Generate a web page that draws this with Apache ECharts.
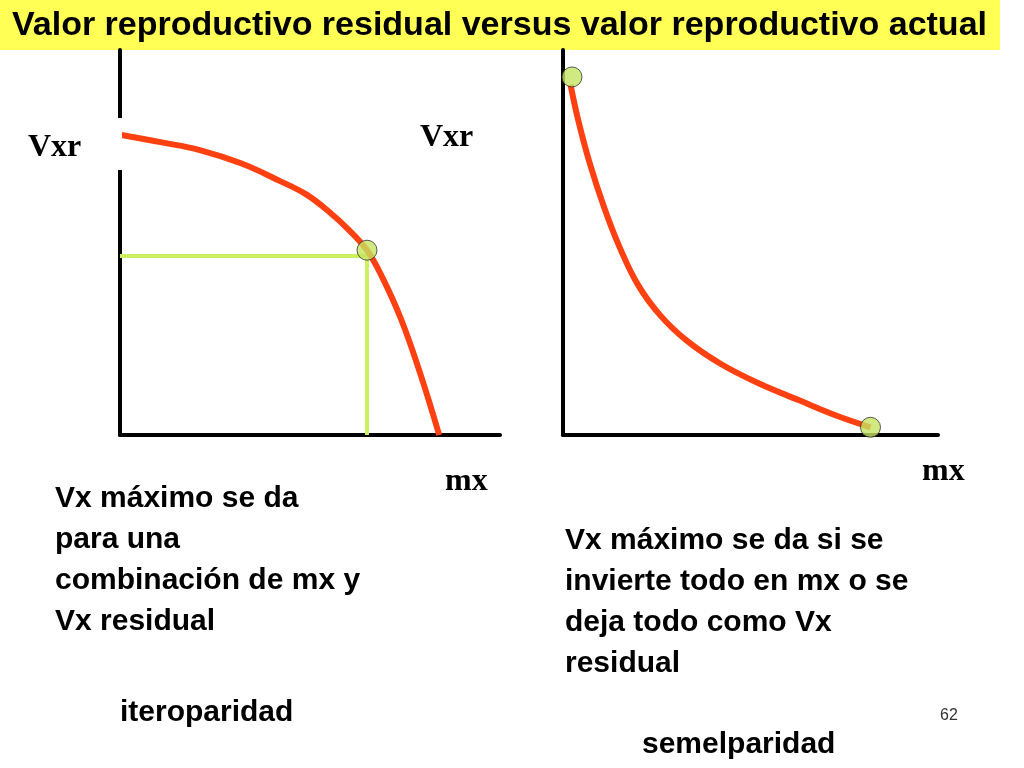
<!DOCTYPE html>
<html><head><meta charset="utf-8">
<script src="https://cdn.jsdelivr.net/npm/echarts@6/dist/echarts.min.js"></script>
<style>html,body{margin:0;padding:0;background:#fff}#c{width:1024px;height:768px}</style>
</head><body><div id="c"></div>
<script>
const leftCurve = [[0,78],[11,76],[21,74],[32,70.5],[42,66],[49,62.5],[55,58],[60,53.5],[65,48],[69,41],[74,30],[79,16],[84,0]];
const leftPoint = [[65,48]];
const leftGuideH = [[0,46.5],[65,46.5]];
const leftGuideV = [[65,46.5],[65,0]];
const rightCurve = [[2,91],[4,82],[7,71],[11,59],[15,49],[20,39],[26,31],[33,24.5],[42,18.5],[52,13.5],[63,9],[73,5],[82,2]];
const rightPoints = [[2.4,93],[82,2]];

const chart = echarts.init(document.getElementById('c'));
const axisX = i => ({gridIndex:i,type:'value',min:0,max:100,axisLine:{onZero:false,lineStyle:{color:'#000',width:4}},axisTick:{show:false},axisLabel:{show:false},splitLine:{show:false}});
const axisY = i => ({gridIndex:i,type:'value',min:0,max:100,axisLine:{show:true,lineStyle:{color:'#000',width:4}},axisTick:{show:false},axisLabel:{show:false},splitLine:{show:false}});
const red = {color:'#ff4010',width:6};
const dot = {color:'#c4e460',borderColor:'#333',borderWidth:1};
const serif = {font:'bold 32px "Liberation Serif"',fill:'#000'};
const sans = {font:'bold 30px "Liberation Sans"',fill:'#000',lineHeight:41};
chart.setOption({
  animation:false,
  grid:[{left:120,top:50,width:380,height:385},{left:563,top:50,width:375,height:385}],
  xAxis:[axisX(0),axisX(1)],
  yAxis:[axisY(0),axisY(1)],
  series:[
    {type:'line',xAxisIndex:0,yAxisIndex:0,data:leftGuideH,symbol:'none',lineStyle:{color:'#ccf060',width:4}},
    {type:'line',xAxisIndex:0,yAxisIndex:0,data:leftGuideV,symbol:'none',lineStyle:{color:'#ccf060',width:4}},
    {type:'line',xAxisIndex:0,yAxisIndex:0,data:leftCurve,smooth:0.4,symbol:'none',lineStyle:red},
    {type:'scatter',xAxisIndex:0,yAxisIndex:0,data:leftPoint,symbolSize:20,itemStyle:dot,z:5},
    {type:'line',xAxisIndex:1,yAxisIndex:1,data:rightCurve,smooth:0.4,symbol:'none',lineStyle:red},
    {type:'scatter',xAxisIndex:1,yAxisIndex:1,data:rightPoints,symbolSize:20,itemStyle:dot,z:5}
  ],
  graphic:[
    {type:'rect',left:0,top:0,shape:{width:1000,height:50},style:{fill:'#ffff55'}},
    {type:'text',left:12,top:9,style:{text:'Valor reproductivo residual versus valor reproductivo actual',font:'bold 34px "Liberation Sans"',fill:'#000'}},
    {type:'rect',left:114,top:118,shape:{width:8,height:52},style:{fill:'#fff'},z:10},
    {type:'text',left:28,top:132,style:Object.assign({text:'Vxr'},serif)},
    {type:'text',left:420,top:122,style:Object.assign({text:'Vxr'},serif)},
    {type:'text',left:445,top:466,style:Object.assign({text:'mx'},serif)},
    {type:'text',left:922,top:456,style:Object.assign({text:'mx'},serif)},
    {type:'text',left:55,top:478,style:Object.assign({text:'Vx máximo se da\npara una\ncombinación de mx y\nVx residual'},sans)},
    {type:'text',left:565,top:520,style:Object.assign({text:'Vx máximo se da si se\ninvierte todo en mx o se\ndeja todo como Vx\nresidual'},sans)},
    {type:'text',left:120,top:692,style:Object.assign({text:'iteroparidad'},sans)},
    {type:'text',left:642,top:724,style:Object.assign({text:'semelparidad'},sans)},
    {type:'text',left:940,top:708,style:{text:'62',font:'16px "Liberation Sans"',fill:'#333'}}
  ]
});
</script></body></html>
